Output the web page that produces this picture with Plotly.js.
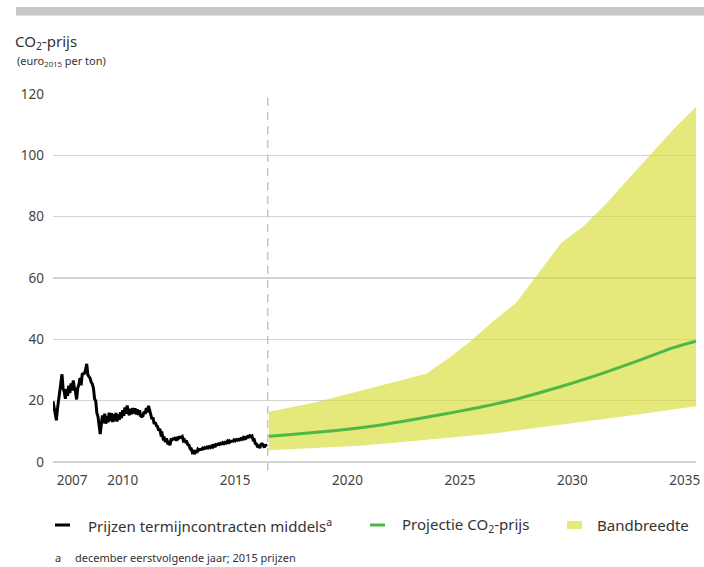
<!DOCTYPE html>
<html>
<head>
<meta charset="utf-8">
<script src="https://cdn.plot.ly/plotly-3.0.1.min.js"></script>
<style>html,body{margin:0;padding:0;background:#fff}#chart{width:704px;height:567px}</style>
</head>
<body>
<div id="chart"></div>
<script>
// ---- Data ----
// Historical Dec-futures prices, sampled every 0.05 year from 2006.90
const histStart = 2006.90;
const histStep = 0.05;
const histPrice = [
  19.8, 17.2, 16.0, 13.6, 17.4, 20.1, 23.8, 25.0, 28.6, 23.9, 22.9, 20.6, 23.8, 21.6, 24.9, 22.5, 25.6, 23.3, 26.6, 24.2,
  23.0, 20.4, 24.1, 25.2, 27.4, 25.0, 28.6, 28.8, 28.9, 30.1, 32.0, 28.4, 27.8, 27.3, 26.0, 25.5, 24.0, 20.6, 19.9, 16.0,
  14.8, 11.2, 9.1, 12.4, 15.2, 12.6, 15.8, 12.5, 15.0, 12.9, 16.1, 13.4, 15.9, 13.0, 15.6, 13.3, 16.0, 13.2, 15.6, 13.8,
  16.2, 14.3, 16.9, 15.1, 17.8, 15.7, 18.4, 16.0, 15.3, 17.4, 15.6, 17.6, 15.8, 17.5, 15.5, 17.2, 15.3, 16.9, 15.0, 14.8,
  15.0, 16.4, 15.7, 17.6, 16.2, 18.3, 16.5, 15.9, 14.0, 14.5, 12.4, 12.9, 11.8, 11.6, 10.2, 10.8, 9.0, 9.3, 7.6, 7.8,
  6.5, 7.7, 6.2, 6.4, 5.5, 7.3, 7.2, 7.6, 7.5, 8.0, 6.9, 8.2, 7.8, 8.1, 8.0, 8.3, 6.9, 7.2, 6.5, 6.6,
  5.6, 5.5, 4.3, 4.3, 3.1, 3.4, 2.6, 3.9, 3.0, 4.2, 3.9, 4.1, 4.1, 4.5, 4.3, 4.7, 4.5, 4.9, 4.6, 5.0,
  4.7, 5.2, 4.9, 5.8, 4.8, 5.7, 5.6, 5.9, 5.7, 6.1, 5.9, 6.3, 6.0, 6.4, 6.2, 6.7, 6.0, 6.9, 6.6, 6.8,
  6.8, 7.2, 6.9, 7.3, 7.1, 7.4, 7.2, 7.6, 7.4, 7.9, 7.2, 8.0, 7.8, 8.3, 8.1, 8.6, 8.3, 8.5, 7.2, 7.3,
  6.0, 5.9, 4.8, 5.6, 4.5, 5.8, 5.9, 5.6, 4.7, 5.7, 5.0
];

// Projection (annual values, plotted at mid-year)
const projYears = [2016.5, 2017.5, 2018.5, 2019.5, 2020.5, 2021.5, 2022.5, 2023.5, 2024.5, 2025.5,
                   2026.5, 2027.5, 2028.5, 2029.5, 2030.5, 2031.5, 2032.5, 2033.5, 2034.5, 2035.5];
const projCentral = [8.4, 9.0, 9.6, 10.3, 11.1, 12.1, 13.3, 14.6, 15.9, 17.3,
                     18.8, 20.5, 22.5, 24.6, 26.9, 29.3, 31.9, 34.6, 37.3, 39.4];
const bandLow = [3.8, 4.15, 4.5, 4.85, 5.3, 5.9, 6.6, 7.2, 7.9, 8.6,
                 9.3, 10.3, 11.2, 12.1, 13.0, 14.1, 15.1, 16.1, 17.2, 18.2];
const bandHigh = [16.4, 17.85, 19.3, 21.2, 23.1, 25.0, 26.9, 28.8, 33.8, 39.5,
                  46.1, 51.9, 61.6, 71.4, 76.9, 84.2, 92.4, 100.5, 108.5, 115.8];

const splitYear = 2016.45;
const xTickVals = [2007.75, 2010, 2015, 2020, 2025, 2030, 2035];
const xTickText = ['2007', '2010', '2015', '2020', '2025', '2030', '2035'];
const yTickVals = [0, 20, 40, 60, 80, 100, 120];

const names = {
  hist: 'Prijzen termijncontracten middels<sup>a</sup>',
  proj: 'Projectie CO<sub>2</sub>-prijs',
  band: 'Bandbreedte'
};

// ---- Build ----
const histYears = histPrice.map((_, i) => +(histStart + i * histStep).toFixed(2));

const FONT = '"Noto Sans", "Open Sans", sans-serif';
const cBand = 'rgba(212,217,33,0.6)';
const cGreen = '#4db848';

const traces = [
  { x: projYears, y: bandLow, type: 'scatter', mode: 'lines', line: {width: 0, color: cBand},
    showlegend: false, hoverinfo: 'skip' },
  { x: projYears, y: bandHigh, type: 'scatter', mode: 'lines', line: {width: 0, color: cBand},
    fill: 'tonexty', fillcolor: cBand, name: names.band, showlegend: false },
  { x: projYears, y: projCentral, type: 'scatter', mode: 'lines', line: {width: 3, color: cGreen, shape: 'spline', smoothing: 0.6},
    name: names.proj, showlegend: false },
  { x: histYears, y: histPrice, type: 'scatter', mode: 'lines', line: {width: 3, color: '#000'},
    name: names.hist, showlegend: false }
];

// plot area geometry (pixels) for paper conversions
const L = 53, R = 8, T = 94, B = 105, W = 704, H = 567;
const pw = W - L - R, ph = H - T - B;
const px = v => (v - L) / pw;
const py = v => (H - B - v) / ph;

const legY = 525;
const shapes = [
  {type: 'rect', xref: 'paper', yref: 'paper', x0: px(16), x1: px(704), y0: py(15.5), y1: py(7),
   fillcolor: '#c8c8c8', line: {width: 0}},
  {type: 'line', xref: 'x', yref: 'paper', x0: splitYear, x1: splitYear, y0: py(470), y1: 1,
   line: {color: '#c4c4c4', width: 1.5, dash: '8px,6px'}, layer: 'below'},
  {type: 'line', xref: 'paper', yref: 'paper', x0: px(55), x1: px(70), y0: py(legY), y1: py(legY),
   line: {color: '#000', width: 3}},
  {type: 'line', xref: 'paper', yref: 'paper', x0: px(370), x1: px(385), y0: py(legY), y1: py(legY),
   line: {color: cGreen, width: 3}},
  {type: 'rect', xref: 'paper', yref: 'paper', x0: px(567), x1: px(582), y0: py(legY + 4), y1: py(legY - 4),
   fillcolor: 'rgb(229,233,122)', line: {width: 0}}
];

const annotations = [
  {xref: 'paper', yref: 'paper', x: px(15), y: py(61), xanchor: 'left', yanchor: 'middle',
   text: '(euro<sub>2015</sub> per ton)', showarrow: false, font: {family: FONT, size: 11, color: '#333'}},
  {xref: 'paper', yref: 'paper', x: px(86), y: py(legY), xanchor: 'left', yanchor: 'middle',
   text: names.hist, showarrow: false, font: {family: FONT, size: 15, color: '#333'}},
  {xref: 'paper', yref: 'paper', x: px(400), y: py(legY), xanchor: 'left', yanchor: 'middle',
   text: names.proj, showarrow: false, font: {family: FONT, size: 15, color: '#333'}},
  {xref: 'paper', yref: 'paper', x: px(595), y: py(legY), xanchor: 'left', yanchor: 'middle',
   text: names.band, showarrow: false, font: {family: FONT, size: 15, color: '#333'}},
  {xref: 'paper', yref: 'paper', x: px(53), y: py(557), xanchor: 'left', yanchor: 'middle',
   text: 'a', showarrow: false, font: {family: FONT, size: 11, color: '#333'}},
  {xref: 'paper', yref: 'paper', x: px(73), y: py(557), xanchor: 'left', yanchor: 'middle',
   text: 'december eerstvolgende jaar; 2015 prijzen', showarrow: false, font: {family: FONT, size: 11, color: '#333'}}
];

const layout = {
  width: W, height: H,
  margin: {l: L, r: R, t: T, b: B},
  paper_bgcolor: '#fff', plot_bgcolor: '#fff',
  showlegend: false,
  title: {text: 'CO<sub>2</sub>-prijs', xref: 'container', yref: 'container', x: 15 / W, xanchor: 'left',
          y: 1 - 42 / H, yanchor: 'middle', font: {family: FONT, size: 15, color: '#333'}},
  xaxis: {range: [2006.9, 2035.5], showgrid: false, zeroline: false, showline: false, ticks: '',
          tickmode: 'array', tickvals: xTickVals, ticktext: xTickText, ticklabelstandoff: 8,
          tickfont: {family: FONT, size: 13.5, color: '#444'}, fixedrange: true},
  yaxis: {range: [0, 120], showgrid: true, gridcolor: '#d4d4d4', gridwidth: 1.5,
          zeroline: true, zerolinecolor: '#d4d4d4', zerolinewidth: 1.5, showline: false, ticks: '',
          tickmode: 'array', tickvals: yTickVals, ticklabelstandoff: 8,
          tickfont: {family: FONT, size: 13.5, color: '#444'}, fixedrange: true},
  shapes: shapes,
  annotations: annotations
};

Plotly.newPlot('chart', traces, layout, {displayModeBar: false, staticPlot: true});
</script>
</body>
</html>
